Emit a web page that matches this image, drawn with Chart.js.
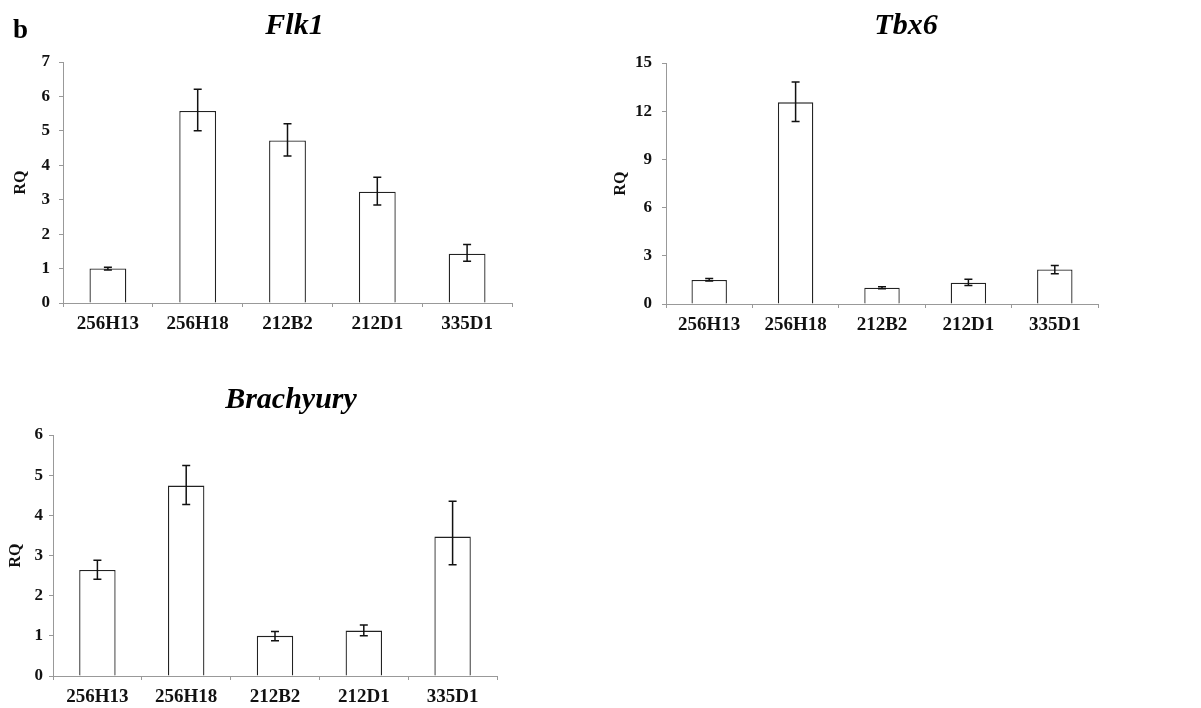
<!DOCTYPE html>
<html>
<head>
<meta charset="utf-8">
<script src="https://cdn.jsdelivr.net/npm/chart.js@4.4.1/dist/chart.umd.min.js"></script>
<style>
  html, body { margin: 0; padding: 0; background: #fff; overflow: hidden; }
  body { width: 1201px; height: 708px; position: relative; }
  canvas { position: absolute; }
</style>
</head>
<body>
<canvas id="flk1" width="530" height="345" style="left:0;top:0"></canvas>
<canvas id="tbx6" width="520" height="345" style="left:600px;top:0"></canvas>
<canvas id="brachyury" width="530" height="346" style="left:0;top:370px"></canvas>
<script>
// Samples
const lines = ["256H13", "256H18", "212B2", "212D1", "335D1"];

// Flk1 RQ with error bar bounds
const flk1 = [1.00, 5.58, 4.72, 3.23, 1.43];
const flk1Min = [0.96, 5.00, 4.27, 2.85, 1.21];
const flk1Max = [1.04, 6.21, 5.21, 3.65, 1.70];
const flk1Ticks = [0, 1, 2, 3, 4, 5, 6, 7];

// Tbx6
const tbx6 = [1.50, 12.55, 1.01, 1.33, 2.15];
const tbx6Min = [1.43, 11.36, 0.95, 1.15, 1.88];
const tbx6Max = [1.58, 13.81, 1.08, 1.54, 2.40];
const tbx6Ticks = [0, 3, 6, 9, 12, 15];

// Brachyury
const brachy = [2.64, 4.74, 1.00, 1.13, 3.47];
const brachyMin = [2.41, 4.27, 0.88, 1.00, 2.77];
const brachyMax = [2.88, 5.24, 1.11, 1.27, 4.35];
const brachyTicks = [0, 1, 2, 3, 4, 5, 6];

const SERIF = "'Liberation Serif', 'Times New Roman', serif";

// error bars drawn from the dataset's min/max arrays
const errorBars = {
  id: 'errorBars',
  afterDatasetsDraw(chart) {
    const ctx = chart.ctx;
    const y = chart.scales.y;
    chart.data.datasets.forEach((ds, di) => {
      const meta = chart.getDatasetMeta(di);
      meta.data.forEach((bar, i) => {
        const top = y.getPixelForValue(ds.errMax[i]);
        const bot = y.getPixelForValue(ds.errMin[i]);
        ctx.save();
        ctx.strokeStyle = '#111';
        ctx.lineWidth = 1.5;
        ctx.beginPath();
        ctx.moveTo(bar.x, top); ctx.lineTo(bar.x, bot);
        ctx.moveTo(bar.x - 4, top); ctx.lineTo(bar.x + 4, top);
        ctx.moveTo(bar.x - 4, bot); ctx.lineTo(bar.x + 4, bot);
        ctx.stroke();
        ctx.restore();
      });
    });
  }
};

// italic gene name above each panel (plus the panel letter)
const geneTitle = {
  id: 'geneTitle',
  afterDraw(chart, args, opts) {
    const ctx = chart.ctx;
    const a = chart.chartArea;
    ctx.save();
    ctx.fillStyle = '#000';
    ctx.textBaseline = 'alphabetic';
    ctx.textAlign = 'center';
    ctx.font = "italic bold 30px " + SERIF;
    ctx.fillText(opts.text, (a.left + a.right) / 2 + opts.dx, opts.y);
    if (opts.panel) {
      ctx.textAlign = 'left';
      ctx.font = "bold 27px " + SERIF;
      ctx.fillText(opts.panel, 13, 38);
    }
    ctx.restore();
  }
};

function makeChart(id, title, values, lo, hi, ticks, cfg) {
  return new Chart(document.getElementById(id), {
    type: 'bar',
    data: {
      labels: lines,
      datasets: [{
        data: values,
        errMin: lo,
        errMax: hi,
        backgroundColor: '#fff',
        borderColor: '#222',
        borderWidth: 1.3,
        barPercentage: 0.41,
        categoryPercentage: 1
      }]
    },
    options: {
      responsive: false,
      animation: false,
      devicePixelRatio: 1,
      layout: { padding: { top: cfg.top, right: cfg.right, bottom: 0, left: 0 } },
      plugins: {
        legend: { display: false },
        tooltip: { enabled: false },
        geneTitle: { text: title, dx: cfg.dx, y: cfg.titleY, panel: cfg.panel }
      },
      scales: {
        x: {
          afterFit: s => { s.height = cfg.xh; },
          border: { color: '#999', dash: [2, 1] },
          grid: { drawOnChartArea: false, tickLength: 4, color: '#999' },
          ticks: { color: '#111', padding: 6, font: { family: SERIF, size: 19, weight: 'bold' } }
        },
        y: {
          min: 0,
          max: ticks[ticks.length - 1],
          afterFit: s => { s.width = cfg.yw; },
          afterBuildTicks: s => { s.ticks = ticks.map(v => ({ value: v })); },
          border: { color: '#999', dash: [2, 1] },
          grid: { drawOnChartArea: false, tickLength: 4, color: '#999' },
          ticks: { color: '#111', padding: cfg.tp, font: { family: SERIF, size: 17, weight: 'bold' } },
          title: {
            display: true,
            text: 'RQ',
            color: '#111',
            padding: { top: cfg.rq, bottom: 0 },
            font: { family: SERIF, size: 16, weight: 'bold' }
          }
        }
      }
    },
    plugins: [errorBars, geneTitle]
  });
}

makeChart('flk1', 'Flk1', flk1, flk1Min, flk1Max, flk1Ticks,
  { top: 62, right: 18, xh: 42, yw: 63, tp: 9, rq: 11, dx: 7, titleY: 34, panel: 'b' });
makeChart('tbx6', 'Tbx6', tbx6, tbx6Min, tbx6Max, tbx6Ticks,
  { top: 63, right: 22, xh: 41, yw: 66, tp: 10, rq: 11, dx: 24, titleY: 34 });
makeChart('brachyury', 'Brachyury', brachy, brachyMin, brachyMax, brachyTicks,
  { top: 65, right: 33, xh: 40, yw: 53, tp: 6, rq: 6, dx: 16, titleY: 38 });
</script>
</body>
</html>
